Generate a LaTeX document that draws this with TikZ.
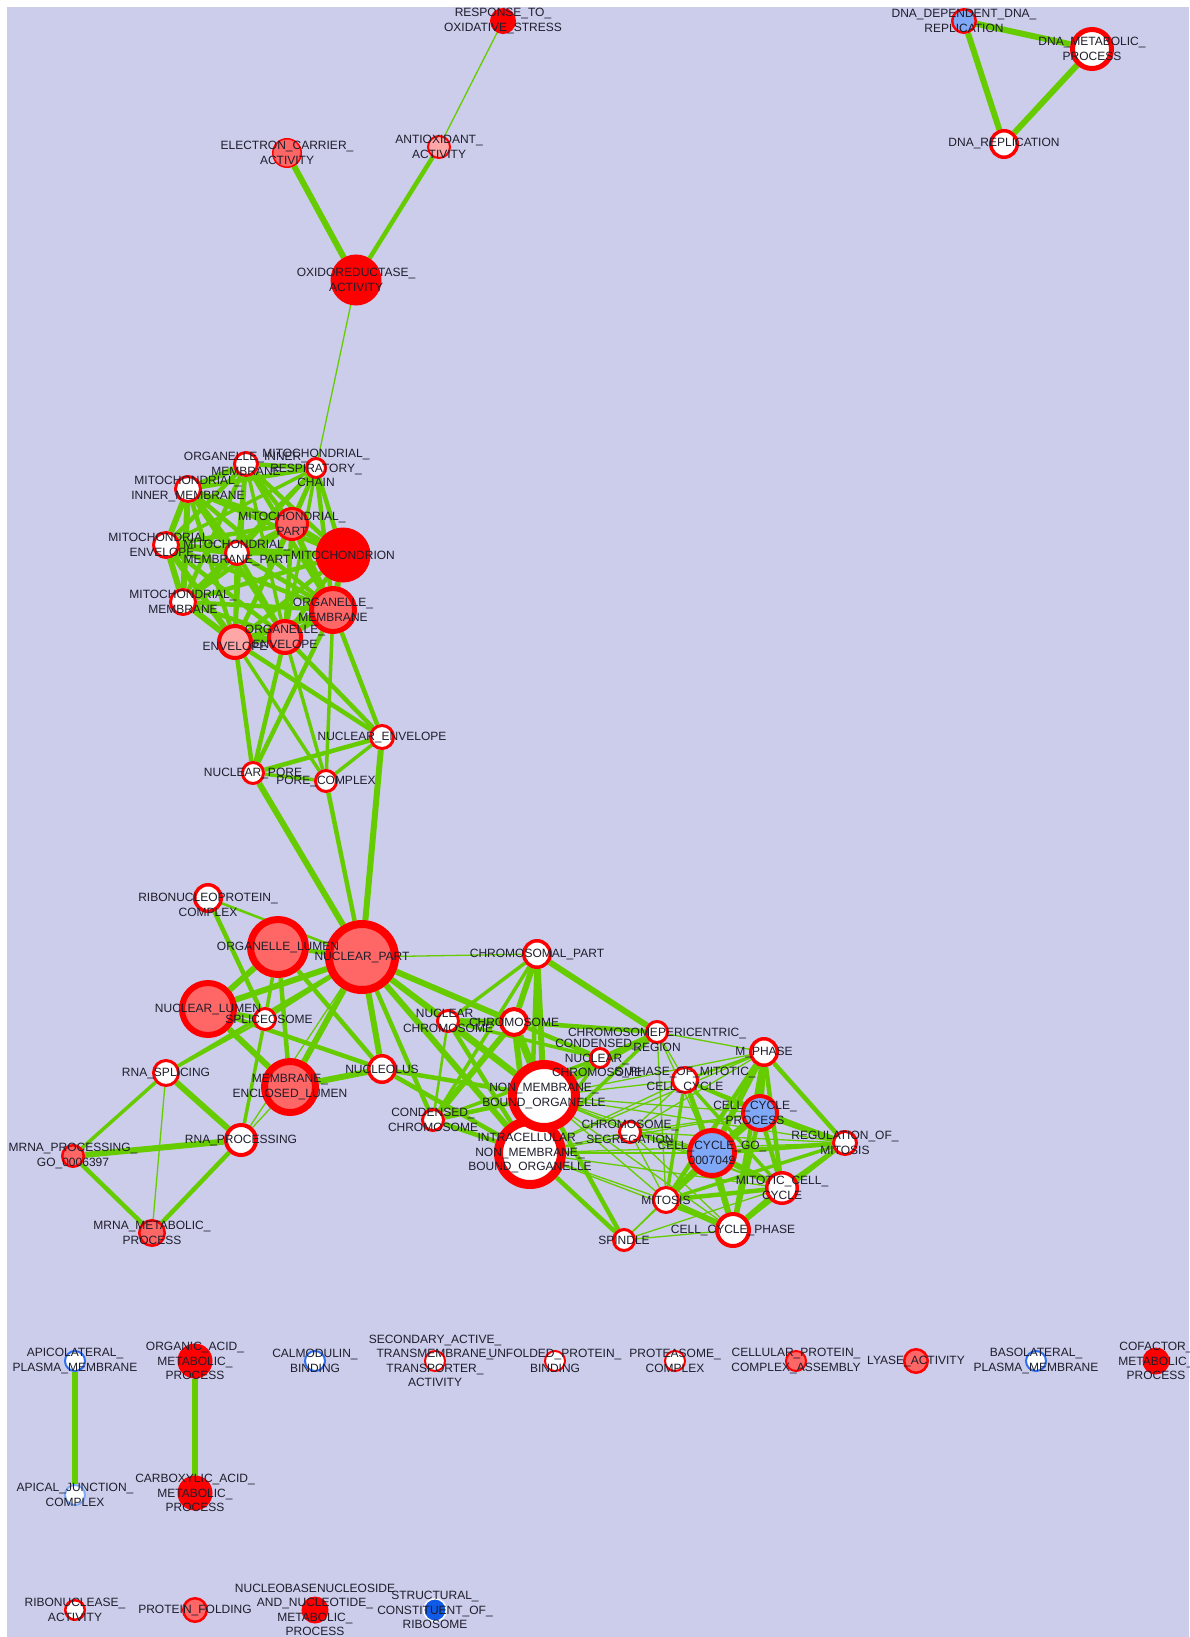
\documentclass[tikz,border=0pt]{standalone}
\usepackage{fontspec}
\setmainfont{Liberation Sans}
\usepackage{tikz}
\usepackage{xcolor}
\definecolor{FontColor}{HTML}{1E1E2C}
\definecolor{LavenderBG}{HTML}{CCCCEB}
\definecolor{EdgeGreen}{HTML}{66CC00}
\definecolor{RedNC}{HTML}{FF0000}
\definecolor{PinkNC}{HTML}{FF6666}
\definecolor{MidPinkNC}{HTML}{FF8080}
\definecolor{LightPinkNC}{HTML}{FFA6A6}
\definecolor{BlueNC}{HTML}{80A8F8}
\definecolor{RingBlue}{HTML}{2F6FF0}
\definecolor{RingLightBlue}{HTML}{7FAAF8}
\definecolor{DarkBlueNC}{HTML}{0F5AE6}
\newcommand\lbresp{RESPONSE\_TO\_\\OXIDATIVE\_STRESS}
\newcommand\lbantiox{ANTIOXIDANT\_\\ACTIVITY}
\newcommand\lbelec{ELECTRON\_CARRIER\_\\ACTIVITY}
\newcommand\lboxido{OXIDOREDUCTASE\_\\ACTIVITY}
\newcommand\lbdnadep{DNA\_DEPENDENT\_DNA\_\\REPLICATION}
\newcommand\lbdnamet{DNA\_METABOLIC\_\\PROCESS}
\newcommand\lbdnarep{DNA\_REPLICATION}
\newcommand\lboim{ORGANELLE\_INNER\_\\MEMBRANE}
\newcommand\lbmrc{MITOCHONDRIAL\_\\RESPIRATORY\_\\CHAIN}
\newcommand\lbmim{MITOCHONDRIAL\_\\INNER\_MEMBRANE}
\newcommand\lbmpart{MITOCHONDRIAL\_\\PART}
\newcommand\lbmito{MITOCHONDRION}
\newcommand\lbmenv{MITOCHONDRIAL\_\\ENVELOPE}
\newcommand\lbmmp{MITOCHONDRIAL\_\\MEMBRANE\_PART}
\newcommand\lbmmem{MITOCHONDRIAL\_\\MEMBRANE}
\newcommand\lbomem{ORGANELLE\_\\MEMBRANE}
\newcommand\lboenv{ORGANELLE\_\\ENVELOPE}
\newcommand\lbenv{ENVELOPE}
\newcommand\lbnenv{NUCLEAR\_ENVELOPE}
\newcommand\lbnpore{NUCLEAR\_PORE}
\newcommand\lbpcomp{PORE\_COMPLEX}
\newcommand\lbribo{RIBONUCLEOPROTEIN\_\\COMPLEX}
\newcommand\lbolumen{ORGANELLE\_LUMEN}
\newcommand\lbnpart{NUCLEAR\_PART}
\newcommand\lbnlumen{NUCLEAR\_LUMEN}
\newcommand\lbsplice{SPLICEOSOME}
\newcommand\lbrnasplice{RNA\_SPLICING}
\newcommand\lbmel{MEMBRANE\_\\ENCLOSED\_LUMEN}
\newcommand\lbnucleolus{NUCLEOLUS}
\newcommand\lbchrpart{CHROMOSOMAL\_PART}
\newcommand\lbnucchr{NUCLEAR\_\\CHROMOSOME}
\newcommand\lbchrom{CHROMOSOME}
\newcommand\lbcnchr{CONDENSED\_\\NUCLEAR\_\\CHROMOSOME}
\newcommand\lbnmbo{NON\_MEMBRANE\_\\BOUND\_ORGANELLE}
\newcommand\lbcchr{CONDENSED\_\\CHROMOSOME}
\newcommand\lbinmbo{INTRACELLULAR\_\\NON\_MEMBRANE\_\\BOUND\_ORGANELLE}
\newcommand\lbchrseg{CHROMOSOME\_\\SEGREGATION}
\newcommand\lbperi{CHROMOSOMEPERICENTRIC\_\\REGION}
\newcommand\lbmphase{M\_PHASE}
\newcommand\lbsphase{S\_PHASE\_OF\_MITOTIC\_\\CELL\_CYCLE}
\newcommand\lbccp{CELL\_CYCLE\_\\PROCESS}
\newcommand\lbregmit{REGULATION\_OF\_\\MITOSIS}
\newcommand\lbccgo{CELL\_CYCLE\_GO\_\\0007049}
\newcommand\lbmcc{MITOTIC\_CELL\_\\CYCLE}
\newcommand\lbccphase{CELL\_CYCLE\_PHASE}
\newcommand\lbmitosis{MITOSIS}
\newcommand\lbspindle{SPINDLE}
\newcommand\lbrnaproc{RNA\_PROCESSING}
\newcommand\lbmrnaproc{MRNA\_PROCESSING\_\\GO\_0006397}
\newcommand\lbmrnamet{MRNA\_METABOLIC\_\\PROCESS}
\newcommand\lbapicolat{APICOLATERAL\_\\PLASMA\_MEMBRANE}
\newcommand\lbapjunc{APICAL\_JUNCTION\_\\COMPLEX}
\newcommand\lborganic{ORGANIC\_ACID\_\\METABOLIC\_\\PROCESS}
\newcommand\lbcarbox{CARBOXYLIC\_ACID\_\\METABOLIC\_\\PROCESS}
\newcommand\lbcalmod{CALMODULIN\_\\BINDING}
\newcommand\lbsecact{SECONDARY\_ACTIVE\_\\TRANSMEMBRANE\_\\TRANSPORTER\_\\ACTIVITY}
\newcommand\lbunfold{UNFOLDED\_PROTEIN\_\\BINDING}
\newcommand\lbprotea{PROTEASOME\_\\COMPLEX}
\newcommand\lbcellprot{CELLULAR\_PROTEIN\_\\COMPLEX\_ASSEMBLY}
\newcommand\lblyase{LYASE\_ACTIVITY}
\newcommand\lbbasolat{BASOLATERAL\_\\PLASMA\_MEMBRANE}
\newcommand\lbcofactor{COFACTOR\_\\METABOLIC\_\\PROCESS}
\newcommand\lbribonuc{RIBONUCLEASE\_\\ACTIVITY}
\newcommand\lbprotfold{PROTEIN\_FOLDING}
\newcommand\lbnucleobase{NUCLEOBASENUCLEOSIDE\\AND\_NUCLEOTIDE\_\\METABOLIC\_\\PROCESS}
\newcommand\lbstructural{STRUCTURAL\_\\CONSTITUENT\_OF\_\\RIBOSOME}
\pgfdeclarelayer{edgelayer}
\pgfdeclarelayer{labellayer}
\pgfsetlayers{edgelayer,main,labellayer}
\tikzstyle{gonode} = [circle, inner sep=0pt, draw=RedNC]
\tikzstyle{wn} = [gonode, fill=white]
\tikzstyle{pn} = [gonode, fill=PinkNC]
\tikzstyle{mpn} = [gonode, fill=MidPinkNC]
\tikzstyle{lpn} = [gonode, fill=LightPinkNC]
\tikzstyle{rn} = [gonode, fill=RedNC, line width=1pt]
\tikzstyle{bn} = [gonode, fill=BlueNC]
\tikzstyle{bwn} = [circle, inner sep=0pt, fill=white, draw=RingBlue, line width=2pt]
\tikzstyle{lbwn} = [circle, inner sep=0pt, fill=white, draw=RingLightBlue, line width=2pt]
\tikzstyle{dbn} = [circle, inner sep=0pt, fill=DarkBlueNC, draw=white, line width=1.5pt]
\tikzstyle{lbl} = [inner sep=0pt, align=center, text=FontColor, font=\fontsize{12}{14.5}\selectfont]
\tikzset{w1/.style={draw=EdgeGreen, line width=1.3pt},
  w2/.style={draw=EdgeGreen, line width=2.5pt},
  w3/.style={draw=EdgeGreen, line width=3.5pt},
  w4/.style={draw=EdgeGreen, line width=4.5pt},
  w5/.style={draw=EdgeGreen, line width=6pt},
  w6/.style={draw=EdgeGreen, line width=7.5pt}}
\begin{document}
\begin{tikzpicture}[x=1pt, y=-1pt]
\useasboundingbox (0,0) rectangle (1189,1637);
% oxidoreductase group
\node[rn, minimum size=25] (resp) at (503,21) {};
\node[lpn, minimum size=22, line width=2] (antiox) at (439,147) {};
\node[pn, minimum size=28.5, line width=1.5] (elec) at (287,153) {};
\node[rn, minimum size=50] (oxido) at (356,280) {};
% dna group
\node[bn, minimum size=23.5, line width=2.5] (dnadep) at (964,21) {};
\node[wn, minimum size=39, line width=5] (dnamet) at (1092,49) {};
\node[wn, minimum size=26.5, line width=3.5] (dnarep) at (1004,144) {};
% mitochondrial group
\node[wn, minimum size=23, line width=3] (oim) at (246,464) {};
\node[wn, minimum size=19, line width=3] (mrc) at (316,468) {};
\node[wn, minimum size=25, line width=3] (mim) at (188,489) {};
\node[pn, minimum size=31, line width=3] (mpart) at (292,524) {};
\node[rn, minimum size=54] (mito) at (343,555) {};
\node[wn, minimum size=25, line width=3] (menv) at (166,545) {};
\node[wn, minimum size=23, line width=3] (mmp) at (237,553) {};
\node[wn, minimum size=25, line width=3] (mmem) at (183,602) {};
\node[pn, minimum size=43, line width=5] (omem) at (333,610) {};
\node[mpn, minimum size=32, line width=4] (oenv) at (285,637) {};
\node[lpn, minimum size=32, line width=4] (env) at (235,642) {};
\node[wn, minimum size=23, line width=3] (nenv) at (382,737) {};
\node[wn, minimum size=21, line width=3] (npore) at (253,773) {};
\node[wn, minimum size=21, line width=3] (pcomp) at (326,781) {};
% nuclear group
\node[wn, minimum size=26.5, line width=3.5] (ribo) at (208,898) {};
\node[pn, minimum size=55, line width=7] (olumen) at (278,947) {};
\node[pn, minimum size=66, line width=8] (npart) at (362,957) {};
\node[pn, minimum size=52, line width=6] (nlumen) at (208,1009) {};
\node[wn, minimum size=21, line width=3] (splice) at (265,1019) {};
\node[wn, minimum size=25, line width=3] (rnasplice) at (166,1073) {};
\node[pn, minimum size=51, line width=7] (mel) at (290,1087) {};
\node[wn, minimum size=26.5, line width=3.5] (nucleolus) at (382,1069) {};
\node[wn, minimum size=30, line width=4] (rnaproc) at (241,1140) {};
\node[pn, minimum size=21.5, line width=2.5] (mrnaproc) at (73,1156) {};
\node[pn, minimum size=25.5, line width=2.5] (mrnamet) at (152,1233) {};
% chromosome group
\node[wn, minimum size=26.5, line width=3.5] (chrpart) at (537,954) {};
\node[wn, minimum size=21, line width=3] (nucchr) at (448,1021) {};
\node[wn, minimum size=26, line width=4] (chrom) at (514,1022) {};
\node[wn, minimum size=19, line width=3] (cnchr) at (600,1058) {};
\node[wn, minimum size=21, line width=3] (cchr) at (433,1120) {};
\node[wn, minimum size=63, line width=9] (inmbo) at (530,1153) {};
\node[wn, minimum size=63, line width=9] (nmbo) at (544,1096) {};
\node[wn, minimum size=21, line width=3] (chrseg) at (630,1132) {};
\node[wn, minimum size=21, line width=3] (peri) at (657,1032) {};
% cell cycle group
\node[wn, minimum size=26.5, line width=3.5] (mphase) at (764,1052) {};
\node[wn, minimum size=25, line width=3] (sphase) at (685,1080) {};
\node[bn, minimum size=34, line width=4] (ccp) at (760,1113) {};
\node[wn, minimum size=23, line width=3] (regmit) at (845,1143) {};
\node[bn, minimum size=45, line width=5] (ccgo) at (712,1153) {};
\node[wn, minimum size=30.5, line width=3.5] (mcc) at (782,1188) {};
\node[wn, minimum size=32, line width=4] (ccphase) at (733,1230) {};
\node[wn, minimum size=25, line width=3] (mitosis) at (666,1200) {};
\node[wn, minimum size=21, line width=3] (spindle) at (624,1240) {};
% single and paired terms
\node[bwn, minimum size=20] (apicolat) at (75,1361) {};
\node[lbwn, minimum size=20] (apjunc) at (75,1495) {};
\node[rn, minimum size=34] (organic) at (195,1361) {};
\node[rn, minimum size=34] (carbox) at (195,1493) {};
\node[bwn, minimum size=20] (calmod) at (315,1361) {};
\node[wn, minimum size=20, line width=2] (secact) at (435,1361) {};
\node[wn, minimum size=20, line width=2] (unfold) at (555,1361) {};
\node[wn, minimum size=20, line width=2] (protea) at (675,1361) {};
\node[pn, minimum size=20, line width=2] (cellprot) at (796,1361) {};
\node[pn, minimum size=23.5, line width=2.5] (lyase) at (916,1361) {};
\node[bwn, minimum size=20] (basolat) at (1036,1361) {};
\node[rn, minimum size=26] (cofactor) at (1156,1361) {};
\node[wn, minimum size=19.5, line width=2.5] (ribonuc) at (75,1610) {};
\node[pn, minimum size=23.5, line width=2.5] (protfold) at (195,1610) {};
\node[rn, minimum size=26] (nucleobase) at (315,1610) {};
\node[dbn, minimum size=22.5] (structural) at (435,1610) {};
\begin{pgfonlayer}{edgelayer}
\fill[white] (0,0) rectangle (1189,1637);
\fill[LavenderBG] (7,7) rectangle (1189,1637);
\draw[w1] (resp) -- (antiox);
\draw[w4] (antiox) -- (oxido);
\draw[w5] (elec) -- (oxido);
\draw[w1] (oxido) -- (mrc);
\draw[w5] (dnadep) -- (dnamet);
\draw[w5] (dnadep) -- (dnarep);
\draw[w5] (dnamet) -- (dnarep);
% mitochondrial mesh
\draw[w4] (oim) -- (mrc);
\draw[w5] (oim) -- (mim);
\draw[w4] (oim) -- (mpart);
\draw[w4] (oim) -- (mito);
\draw[w4] (oim) -- (menv);
\draw[w4] (oim) -- (mmp);
\draw[w4] (oim) -- (mmem);
\draw[w4] (oim) -- (omem);
\draw[w3] (oim) -- (oenv);
\draw[w3] (oim) -- (env);
\draw[w4] (mrc) -- (mim);
\draw[w4] (mrc) -- (mpart);
\draw[w4] (mrc) -- (mito);
\draw[w3] (mrc) -- (menv);
\draw[w4] (mrc) -- (mmp);
\draw[w3] (mrc) -- (mmem);
\draw[w4] (mrc) -- (omem);
\draw[w3] (mrc) -- (oenv);
\draw[w3] (mrc) -- (env);
\draw[w4] (mim) -- (mpart);
\draw[w4] (mim) -- (mito);
\draw[w5] (mim) -- (menv);
\draw[w5] (mim) -- (mmp);
\draw[w5] (mim) -- (mmem);
\draw[w4] (mim) -- (omem);
\draw[w4] (mim) -- (oenv);
\draw[w4] (mim) -- (env);
\draw[w5] (mpart) -- (mito);
\draw[w4] (mpart) -- (menv);
\draw[w4] (mpart) -- (mmp);
\draw[w4] (mpart) -- (mmem);
\draw[w5] (mpart) -- (omem);
\draw[w4] (mpart) -- (oenv);
\draw[w4] (mpart) -- (env);
\draw[w4] (mito) -- (menv);
\draw[w4] (mito) -- (mmp);
\draw[w4] (mito) -- (mmem);
\draw[w5] (mito) -- (omem);
\draw[w4] (mito) -- (oenv);
\draw[w4] (mito) -- (env);
\draw[w5] (menv) -- (mmp);
\draw[w5] (menv) -- (mmem);
\draw[w4] (menv) -- (omem);
\draw[w4] (menv) -- (oenv);
\draw[w5] (menv) -- (env);
\draw[w5] (mmp) -- (mmem);
\draw[w4] (mmp) -- (omem);
\draw[w4] (mmp) -- (oenv);
\draw[w4] (mmp) -- (env);
\draw[w4] (mmem) -- (omem);
\draw[w4] (mmem) -- (oenv);
\draw[w5] (mmem) -- (env);
\draw[w5] (omem) -- (oenv);
\draw[w5] (omem) -- (env);
\draw[w5] (oenv) -- (env);
% nuclear envelope and pore
\draw[w4] (env) -- (npore);
\draw[w3] (env) -- (pcomp);
\draw[w4] (env) -- (nenv);
\draw[w4] (oenv) -- (npore);
\draw[w3] (oenv) -- (pcomp);
\draw[w4] (oenv) -- (nenv);
\draw[w4] (omem) -- (npore);
\draw[w3] (omem) -- (pcomp);
\draw[w4] (omem) -- (nenv);
\draw[w4] (npore) -- (nenv);
\draw[w3] (npore) -- (pcomp);
\draw[w3] (pcomp) -- (nenv);
\draw[w5] (npore) -- (npart);
\draw[w4] (pcomp) -- (npart);
\draw[w5] (nenv) -- (npart);
% nuclear part and lumen
\draw[w2] (ribo) -- (npart);
\draw[w4] (ribo) -- (splice);
\draw[w4] (npart) -- (olumen);
\draw[w5] (npart) -- (nlumen);
\draw[w5] (npart) -- (mel);
\draw[w5] (npart) -- (nucleolus);
\draw[w1] (npart) -- (chrpart);
\draw[w5] (npart) -- (chrom);
\draw[w4] (npart) -- (nucchr);
\draw[w5] (npart) -- (nmbo);
\draw[w5] (npart) -- (inmbo);
\draw[w4] (npart) -- (cchr);
\draw[w3] (npart) -- (rnasplice);
\draw[w3] (npart) -- (splice);
\draw[w1] (npart) -- (rnaproc);
\draw[w5] (olumen) -- (nlumen);
\draw[w4] (olumen) -- (mel);
\draw[w4] (olumen) -- (nucleolus);
\draw[w3] (olumen) -- (splice);
\draw[w5] (nlumen) -- (mel);
\draw[w4] (nlumen) -- (splice);
\draw[w4] (nlumen) -- (nucleolus);
\draw[w2] (splice) -- (rnasplice);
\draw[w3] (splice) -- (rnaproc);
\draw[w5] (mel) -- (nucleolus);
\draw[w1] (mel) -- (rnaproc);
\draw[w5] (rnasplice) -- (rnaproc);
\draw[w3] (rnasplice) -- (mrnaproc);
\draw[w1] (rnasplice) -- (mrnamet);
\draw[w5] (rnaproc) -- (mrnaproc);
\draw[w4] (rnaproc) -- (mrnamet);
\draw[w4] (mrnaproc) -- (mrnamet);
\draw[w4] (nucleolus) -- (nmbo);
\draw[w4] (nucleolus) -- (inmbo);
% chromosome
\draw[w3] (chrpart) -- (nucchr);
\draw[w5] (chrpart) -- (chrom);
\draw[w5] (chrpart) -- (nmbo);
\draw[w4] (chrpart) -- (inmbo);
\draw[w5] (chrpart) -- (peri);
\draw[w3] (chrpart) -- (cchr);
\draw[w5] (chrom) -- (nucchr);
\draw[w6] (chrom) -- (nmbo);
\draw[w5] (chrom) -- (inmbo);
\draw[w5] (chrom) -- (cchr);
\draw[w4] (chrom) -- (peri);
\draw[w4] (chrom) -- (cnchr);
\draw[w5] (nucchr) -- (nmbo);
\draw[w4] (nucchr) -- (inmbo);
\draw[w2] (nucchr) -- (cchr);
\draw[w3] (nucchr) -- (cnchr);
\draw[w4] (cchr) -- (nmbo);
\draw[w4] (cchr) -- (inmbo);
\draw[w3] (cchr) -- (cnchr);
\draw[w4] (cnchr) -- (nmbo);
\draw[w3] (cnchr) -- (inmbo);
\draw[w4] (peri) -- (nmbo);
\draw[w3] (peri) -- (inmbo);
\draw[w3] (peri) -- (cnchr);
\draw[w1] (peri) -- (mphase);
\draw[w1] (peri) -- (ccgo);
\draw[w1] (peri) -- (mitosis);
\draw[w1] (peri) -- (sphase);
% organelle to cell cycle
\draw[w1] (nmbo) -- (sphase);
\draw[w1] (nmbo) -- (chrseg);
\draw[w1] (nmbo) -- (mitosis);
\draw[w1] (nmbo) -- (ccgo);
\draw[w1] (nmbo) -- (ccp);
\draw[w1] (nmbo) -- (mphase);
\draw[w1] (nmbo) -- (mcc);
\draw[w1] (nmbo) -- (ccphase);
\draw[w1] (nmbo) -- (regmit);
\draw[w4] (nmbo) -- (spindle);
\draw[w1] (inmbo) -- (sphase);
\draw[w1] (inmbo) -- (chrseg);
\draw[w1] (inmbo) -- (mitosis);
\draw[w1] (inmbo) -- (ccgo);
\draw[w1] (inmbo) -- (ccp);
\draw[w1] (inmbo) -- (mphase);
\draw[w1] (inmbo) -- (mcc);
\draw[w1] (inmbo) -- (ccphase);
\draw[w1] (inmbo) -- (regmit);
\draw[w4] (inmbo) -- (spindle);
\draw[w1] (chrseg) -- (sphase);
\draw[w1] (chrseg) -- (mitosis);
\draw[w2] (chrseg) -- (ccgo);
\draw[w1] (chrseg) -- (ccp);
\draw[w1] (chrseg) -- (mcc);
\draw[w1] (chrseg) -- (ccphase);
\draw[w1] (chrseg) -- (regmit);
\draw[w1] (chrseg) -- (mphase);
\draw[w1] (spindle) -- (mitosis);
\draw[w1] (spindle) -- (ccphase);
\draw[w1] (spindle) -- (ccgo);
\draw[w1] (spindle) -- (mcc);
% cell cycle core
\draw[w5] (mphase) -- (ccp);
\draw[w5] (mphase) -- (ccgo);
\draw[w4] (mphase) -- (regmit);
\draw[w4] (mphase) -- (mcc);
\draw[w4] (mphase) -- (ccphase);
\draw[w4] (mphase) -- (mitosis);
\draw[w2] (mphase) -- (sphase);
\draw[w4] (sphase) -- (ccgo);
\draw[w3] (sphase) -- (ccp);
\draw[w3] (sphase) -- (mcc);
\draw[w3] (sphase) -- (ccphase);
\draw[w3] (sphase) -- (mitosis);
\draw[w2] (sphase) -- (regmit);
\draw[w6] (ccp) -- (ccgo);
\draw[w5] (ccp) -- (regmit);
\draw[w4] (ccp) -- (mcc);
\draw[w4] (ccp) -- (ccphase);
\draw[w4] (ccp) -- (mitosis);
\draw[w4] (regmit) -- (ccgo);
\draw[w4] (regmit) -- (mcc);
\draw[w3] (regmit) -- (ccphase);
\draw[w3] (regmit) -- (mitosis);
\draw[w5] (ccgo) -- (mcc);
\draw[w5] (ccgo) -- (ccphase);
\draw[w5] (ccgo) -- (mitosis);
\draw[w5] (mcc) -- (ccphase);
\draw[w4] (mcc) -- (mitosis);
\draw[w5] (ccphase) -- (mitosis);
% pairs
\draw[w5] (apicolat) -- (apjunc);
\draw[w5] (organic) -- (carbox);
\end{pgfonlayer}
\begin{pgfonlayer}{labellayer}
\node[lbl] (respl) at (resp) {\lbresp};
\node[lbl] (antioxl) at (antiox) {\lbantiox};
\node[lbl] (elecl) at (elec) {\lbelec};
\node[lbl] (oxidol) at (oxido) {\lboxido};
\node[lbl] (dnadepl) at (dnadep) {\lbdnadep};
\node[lbl] (dnametl) at (dnamet) {\lbdnamet};
\node[lbl] (dnarepl) at (dnarep) {\lbdnarep};
\node[lbl] (oiml) at (oim) {\lboim};
\node[lbl] (mrcl) at (mrc) {\lbmrc};
\node[lbl] (miml) at (mim) {\lbmim};
\node[lbl] (mpartl) at (mpart) {\lbmpart};
\node[lbl] (mitol) at (mito) {\lbmito};
\node[lbl, xshift=-4pt] (menvl) at (menv) {\lbmenv};
\node[lbl] (mmpl) at (mmp) {\lbmmp};
\node[lbl] (mmeml) at (mmem) {\lbmmem};
\node[lbl] (omeml) at (omem) {\lbomem};
\node[lbl] (oenvl) at (oenv) {\lboenv};
\node[lbl, yshift=-4pt] (envl) at (env) {\lbenv};
\node[lbl] (nenvl) at (nenv) {\lbnenv};
\node[lbl] (nporel) at (npore) {\lbnpore};
\node[lbl] (pcompl) at (pcomp) {\lbpcomp};
\node[lbl, yshift=-7pt] (ribol) at (ribo) {\lbribo};
\node[lbl] (olumenl) at (olumen) {\lbolumen};
\node[lbl] (npartl) at (npart) {\lbnpart};
\node[lbl] (nlumenl) at (nlumen) {\lbnlumen};
\node[lbl, xshift=4pt] (splicel) at (splice) {\lbsplice};
\node[lbl] (rnaslicel) at (rnasplice) {\lbrnasplice};
\node[lbl] (mell) at (mel) {\lbmel};
\node[lbl] (nucleolusl) at (nucleolus) {\lbnucleolus};
\node[lbl] (rnaprocl) at (rnaproc) {\lbrnaproc};
\node[lbl] (mrnaprocl) at (mrnaproc) {\lbmrnaproc};
\node[lbl] (mrnametl) at (mrnamet) {\lbmrnamet};
\node[lbl] (chrpartl) at (chrpart) {\lbchrpart};
\node[lbl] (nucchrl) at (nucchr) {\lbnucchr};
\node[lbl] (chroml) at (chrom) {\lbchrom};
\node[lbl, xshift=-3pt] (cnchrl) at (cnchr) {\lbcnchr};
\node[lbl] (nmbol) at (nmbo) {\lbnmbo};
\node[lbl] (cchrl) at (cchr) {\lbcchr};
\node[lbl] (inmbol) at (inmbo) {\lbinmbo};
\node[lbl] (chrsegl) at (chrseg) {\lbchrseg};
\node[lbl, yshift=-8pt] (peril) at (peri) {\lbperi};
\node[lbl] (mphasel) at (mphase) {\lbmphase};
\node[lbl] (sphasel) at (sphase) {\lbsphase};
\node[lbl, xshift=-5pt] (ccpl) at (ccp) {\lbccp};
\node[lbl] (regmitl) at (regmit) {\lbregmit};
\node[lbl] (ccgol) at (ccgo) {\lbccgo};
\node[lbl] (mccl) at (mcc) {\lbmcc};
\node[lbl] (ccphasel) at (ccphase) {\lbccphase};
\node[lbl] (mitosisl) at (mitosis) {\lbmitosis};
\node[lbl] (spindlel) at (spindle) {\lbspindle};
\node[lbl] (apicolatl) at (apicolat) {\lbapicolat};
\node[lbl] (apjuncl) at (apjunc) {\lbapjunc};
\node[lbl] (organicl) at (organic) {\lborganic};
\node[lbl] (carboxl) at (carbox) {\lbcarbox};
\node[lbl] (calmodl) at (calmod) {\lbcalmod};
\node[lbl] (secactl) at (secact) {\lbsecact};
\node[lbl] (unfoldl) at (unfold) {\lbunfold};
\node[lbl] (proteal) at (protea) {\lbprotea};
\node[lbl] (cellprotl) at (cellprot) {\lbcellprot};
\node[lbl] (lyasel) at (lyase) {\lblyase};
\node[lbl] (basolatl) at (basolat) {\lbbasolat};
\node[lbl] (cofactorl) at (cofactor) {\lbcofactor};
\node[lbl] (ribonucl) at (ribonuc) {\lbribonuc};
\node[lbl] (protfoldl) at (protfold) {\lbprotfold};
\node[lbl] (nucleobasel) at (nucleobase) {\lbnucleobase};
\node[lbl] (structurall) at (structural) {\lbstructural};
\end{pgfonlayer}
\end{tikzpicture}
\end{document}
